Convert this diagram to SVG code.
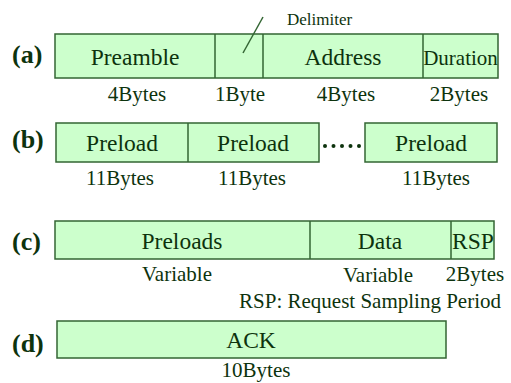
<svg xmlns="http://www.w3.org/2000/svg" width="511" height="383" viewBox="0 0 511 383">
  <style>
    .box { fill: #ccffcc; stroke: #336633; stroke-width: 1.5; }
    .rule { fill: none; stroke: #336633; stroke-width: 1.5; }
    .t { font-family: "Liberation Serif", "DejaVu Serif", "Times New Roman", serif; fill: #0d330d; }
    .tag { font-size: 26px; font-weight: bold; }
    .field { font-size: 23.5px; text-anchor: middle; }
    .narrow { font-size: 21px; }
    .size { font-size: 21px; text-anchor: middle; }
    .note { font-size: 17px; }
    .dot { fill: #0d330d; }
  </style>

  <!-- (a) header frame -->
  <g id="frame-a">
    <rect class="box" x="55" y="34" width="443" height="44"/>
    <line class="rule" x1="215" y1="34" x2="215" y2="78"/>
    <line class="rule" x1="263" y1="34" x2="263" y2="78"/>
    <line class="rule" x1="423" y1="34" x2="423" y2="78"/>
    <text class="t tag" x="12" y="63">(a)</text>
    <text class="t field" x="135" y="65">Preamble</text>
    <text class="t field" x="343" y="65">Address</text>
    <text class="t field narrow" x="460.5" y="65">Duration</text>
    <text class="t size" x="137" y="101">4Bytes</text>
    <text class="t size" x="240" y="101">1Byte</text>
    <text class="t size" x="346" y="101">4Bytes</text>
    <text class="t size" x="459" y="101">2Bytes</text>
    <text class="t note" x="287" y="25">Delimiter</text>
  </g>

  <!-- (b) preload train -->
  <g id="frame-b">
    <rect class="box" x="56" y="123" width="263" height="39"/>
    <line class="rule" x1="188" y1="123" x2="188" y2="162"/>
    <rect class="box" x="365" y="123" width="132" height="39"/>
    <text class="t tag" x="12" y="148">(b)</text>
    <text class="t field" x="122" y="151">Preload</text>
    <text class="t field" x="253" y="151">Preload</text>
    <text class="t field" x="431" y="151">Preload</text>
    <circle class="dot" cx="325" cy="146" r="2"/>
    <circle class="dot" cx="333.5" cy="146" r="2"/>
    <circle class="dot" cx="342" cy="146" r="2"/>
    <circle class="dot" cx="350.5" cy="146" r="2"/>
    <circle class="dot" cx="359" cy="146" r="2"/>
    <text class="t size" x="120" y="185">11Bytes</text>
    <text class="t size" x="252" y="185">11Bytes</text>
    <text class="t size" x="436" y="185">11Bytes</text>
  </g>

  <!-- (c) data frame -->
  <g id="frame-c">
    <rect class="box" x="55" y="221" width="439" height="38"/>
    <line class="rule" x1="310" y1="221" x2="310" y2="259"/>
    <line class="rule" x1="451" y1="221" x2="451" y2="259"/>
    <text class="t tag" x="12" y="250">(c)</text>
    <text class="t field" x="182" y="249">Preloads</text>
    <text class="t field" x="380" y="249">Data</text>
    <text class="t field" x="473" y="249">RSP</text>
    <text class="t size" x="177" y="281">Variable</text>
    <text class="t size" x="378" y="282">Variable</text>
    <text class="t size" x="475" y="281">2Bytes</text>
    <text class="t size" x="370" y="308">RSP: Request Sampling Period</text>
  </g>

  <!-- (d) acknowledgement -->
  <g id="frame-d">
    <rect class="box" x="57" y="321" width="389" height="37"/>
    <text class="t tag" x="12" y="352">(d)</text>
    <text class="t field" x="251" y="348">ACK</text>
    <text class="t size" x="256" y="377">10Bytes</text>
  </g>

  <!-- pointer to the delimiter field -->
  <g id="connectors">
    <line class="rule" x1="243" y1="53" x2="263" y2="17"/>
  </g>
</svg>
